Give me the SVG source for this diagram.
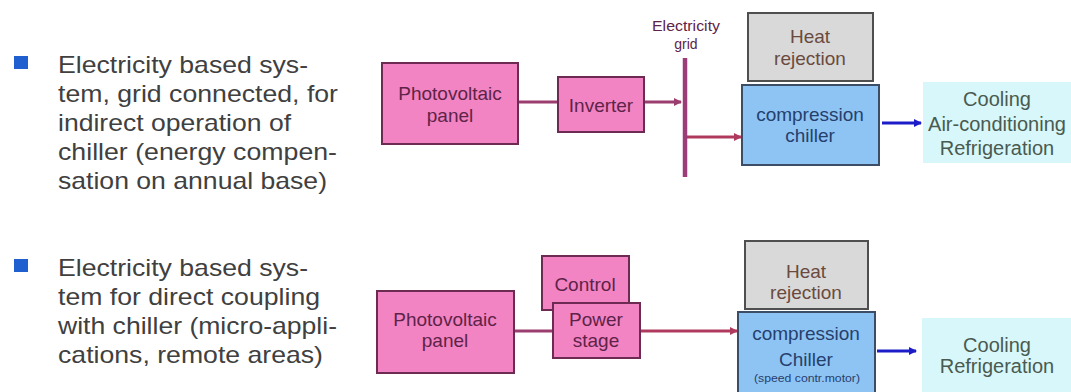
<svg xmlns="http://www.w3.org/2000/svg" width="1071" height="392" viewBox="0 0 1071 392">
<defs>
<style>
.lt{font-family:"Liberation Sans",Arial,sans-serif;font-size:24px;fill:#404040}
.bt{font-family:"Liberation Sans",Arial,sans-serif;font-size:19px;text-anchor:middle}
.pink{fill:#f284c3;stroke:#6d2a52;stroke-width:2}
.pt{fill:#5e2348}
.gray{fill:#d9d9d9;stroke:#4f4f4f;stroke-width:2}
.gt{fill:#6b4a3e}
.blue{fill:#8ec4f4;stroke:#3c4e66;stroke-width:2}
.blt{fill:#26406c}
.cyan{fill:#d7f7fa}
.ct{fill:#4a5a50;font-size:20px}
.wire{stroke:#9b3d6e;stroke-width:3;fill:none}
.wireR{stroke:#b03a5e;stroke-width:3;fill:none}
.barr{stroke:#1c1cc8;stroke-width:3;fill:none}
.bullet{fill:#1f5fcf}
</style>
<marker id="amar" markerWidth="8" markerHeight="8" refX="7" refY="4" orient="auto" markerUnits="userSpaceOnUse" viewBox="0 0 8 8"><path d="M0,0 L8,4 L0,8 z" fill="#9b3d6e"/></marker>
<marker id="ared" markerWidth="8" markerHeight="8" refX="7" refY="4" orient="auto" markerUnits="userSpaceOnUse" viewBox="0 0 8 8"><path d="M0,0 L8,4 L0,8 z" fill="#b03a5e"/></marker>
<marker id="ablue" markerWidth="8" markerHeight="8" refX="7" refY="4" orient="auto" markerUnits="userSpaceOnUse" viewBox="0 0 8 8"><path d="M0,0 L8,4 L0,8 z" fill="#1c1cc8"/></marker>
</defs>
<rect width="1071" height="392" fill="#ffffff"/>

<g id="text1">
<rect class="bullet" x="14" y="56" width="14" height="13"/>
<text class="lt" x="58" y="73" textLength="250" lengthAdjust="spacingAndGlyphs">Electricity based sys-</text>
<text class="lt" x="58" y="102" textLength="280" lengthAdjust="spacingAndGlyphs">tem, grid connected, for</text>
<text class="lt" x="58" y="131" textLength="233" lengthAdjust="spacingAndGlyphs">indirect operation of</text>
<text class="lt" x="58" y="160" textLength="279" lengthAdjust="spacingAndGlyphs">chiller (energy compen-</text>
<text class="lt" x="58" y="189" textLength="269" lengthAdjust="spacingAndGlyphs">sation on annual base)</text>
</g>
<g id="text2">
<rect class="bullet" x="14" y="259" width="14" height="13"/>
<text class="lt" x="58" y="276" textLength="250" lengthAdjust="spacingAndGlyphs">Electricity based sys-</text>
<text class="lt" x="58" y="305" textLength="262" lengthAdjust="spacingAndGlyphs">tem for direct coupling</text>
<text class="lt" x="58" y="334" textLength="279" lengthAdjust="spacingAndGlyphs">with chiller (micro-appli-</text>
<text class="lt" x="58" y="363" textLength="265" lengthAdjust="spacingAndGlyphs">cations, remote areas)</text>
</g>

<g id="connectors">
<line class="wire" x1="518" y1="102" x2="558" y2="102"/>
<line class="wire" x1="644" y1="102" x2="681" y2="102" marker-end="url(#amar)"/>
<line x1="685" y1="58" x2="685" y2="177" stroke="#9b3d78" stroke-width="4.5"/>
<line class="wireR" x1="687" y1="137" x2="741" y2="137" marker-end="url(#ared)"/>
<line class="barr" x1="882" y1="123" x2="921" y2="123" marker-end="url(#ablue)"/>
<line class="wire" x1="514" y1="331" x2="553" y2="331"/>
<line class="wireR" x1="640" y1="331" x2="737" y2="331" marker-end="url(#ared)"/>
<line class="barr" x1="877" y1="351" x2="916" y2="351" marker-end="url(#ablue)"/>
</g>

<g id="grid-label">
<text class="bt pt" x="686" y="31" style="font-size:14px" textLength="68" lengthAdjust="spacingAndGlyphs">Electricity</text>
<text class="bt pt" x="686" y="49" style="font-size:14px">grid</text>
</g>

<g id="pv1">
<rect class="pink" x="382" y="63" width="136" height="81"/>
<text class="bt pt" x="450" y="100">Photovoltaic</text>
<text class="bt pt" x="450" y="122">panel</text>
</g>
<g id="inverter">
<rect class="pink" x="558" y="77" width="86" height="55"/>
<text class="bt pt" x="601" y="112">Inverter</text>
</g>
<g id="heat1">
<rect class="gray" x="748" y="13" width="125" height="68"/>
<text class="bt gt" x="810" y="43">Heat</text>
<text class="bt gt" x="810" y="65">rejection</text>
</g>
<g id="chiller1">
<rect class="blue" x="742" y="85" width="137" height="80"/>
<text class="bt blt" x="810" y="121">compression</text>
<text class="bt blt" x="810" y="142">chiller</text>
</g>
<g id="cooling1">
<rect class="cyan" x="923" y="82" width="148" height="81"/>
<text class="bt ct" x="997" y="106">Cooling</text>
<text class="bt ct" x="997" y="131">Air-conditioning</text>
<text class="bt ct" x="997" y="155">Refrigeration</text>
</g>

<g id="pv2">
<rect class="pink" x="377" y="291" width="137" height="82"/>
<text class="bt pt" x="445" y="326">Photovoltaic</text>
<text class="bt pt" x="445" y="347">panel</text>
</g>
<g id="control">
<rect class="pink" x="542" y="256" width="87" height="54"/>
<text class="bt pt" x="585" y="291">Control</text>
</g>
<g id="power-stage">
<rect class="pink" x="553" y="303" width="87" height="55"/>
<text class="bt pt" x="596" y="326">Power</text>
<text class="bt pt" x="596" y="347">stage</text>
</g>
<g id="heat2">
<rect class="gray" x="745" y="241" width="123" height="68"/>
<text class="bt gt" x="806" y="278">Heat</text>
<text class="bt gt" x="806" y="299">rejection</text>
</g>
<g id="chiller2">
<rect class="blue" x="738" y="312" width="137" height="86"/>
<text class="bt blt" x="806" y="340">compression</text>
<text class="bt blt" x="806" y="366">Chiller</text>
<text class="bt blt" x="807" y="382" style="font-size:10px" textLength="106" lengthAdjust="spacingAndGlyphs">(speed contr.motor)</text>
</g>
<g id="cooling2">
<rect class="cyan" x="922" y="318" width="149" height="80"/>
<text class="bt ct" x="997" y="352">Cooling</text>
<text class="bt ct" x="997" y="373">Refrigeration</text>
</g>
</svg>
